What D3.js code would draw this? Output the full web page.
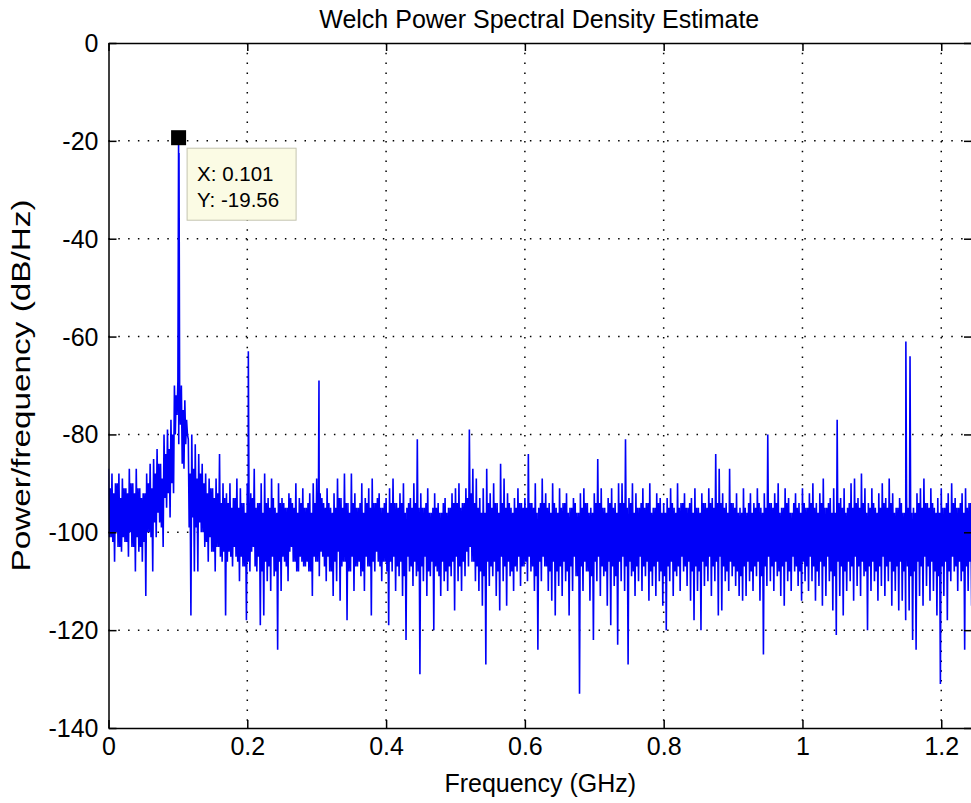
<!DOCTYPE html>
<html>
<head>
<meta charset="utf-8">
<script src="https://cdn.jsdelivr.net/npm/d3@7/dist/d3.min.js"></script>
<style>
  html, body { margin: 0; padding: 0; background: #ffffff; }
  svg { display: block; }
  text { font-family: "Liberation Sans", Arial, Helvetica, sans-serif; fill: #000; }
</style>
</head>
<body>
<svg id="chart" width="971" height="803"></svg>
<script>
// ---- spectrum data (GHz / dB/Hz) ----
// Each 0.005 GHz bin is sampled four times: upper excursion, lower core,
// upper core, lower excursion.
const binStep = 0.005;
const binHigh = [
  -87,-88,-90,-88,-89,-91,-87,-90,-87,-91, -92,-88,-86,-85,-83,-86,-80,-79,-77,-70,
  -69,-70,-73,-81,-80,-82,-84,-86,-88,-89, -91,-89,-84,-90,-92,-90,-93,-89,-91,-94,
  -90,-92,-87,-94,-90,-88,-93,-89,-95,-90, -93,-95,-92,-94,-90,-93,-91,-95,-92,-90,
  -89,-92,-94,-91,-95,-92,-89,-93,-88,-94, -88,-92,-95,-90,-93,-91,-89,-94,-92,-95,
  -93,-91,-89,-94,-92,-90,-95,-93,-90,-81, -92,-95,-91,-96,-92,-94,-96,-93,-95,-92,
  -91,-90,-94,-91,-79,-87,-89,-93,-91,-87, -92,-90,-94,-86,-89,-92,-95,-93,-91,-94,
  -93,-84,-94,-90,-95,-89,-92,-94,-90,-95, -91,-94,-92,-95,-93,-96,-92,-91,-94,-95,
  -92,-85,-91,-95,-93,-91,-94,-90,-90,-81, -93,-90,-92,-95,-91,-94,-90,-95,-92,-93,
  -94,-93,-91,-95,-90,-94,-92,-95,-93,-91, -95,-92,-94,-91,-93,-84,-87,-92,-94,-87,
  -94,-92,-95,-91,-96,-92,-94,-91,-95,-92, -80,-94,-92,-90,-95,-91,-93,-96,-92,-94,
  -91,-95,-92,-90,-94,-92,-89,-95,-93,-91, -77,-93,-91,-95,-90,-89,-93,-88,-91,-94,
  -91,-95,-92,-90,-93,-89,-92,-95,-93,-96, -93,-64,-95,-92,-91,-89,-94,-91,-95,-93,
  -91,-95,-92,-90,-93,-95,-92,-91,-94,-92
];
const coreLow = [
  -101,-102,-100,-103,-101,-102,-100,-103,-101,-103, -102,-100,-101,-98,-96,-99,-93,-92,-90,-80,
  -82,-86,-82,-99,-97,-99,-98,-100,-102,-101, -104,-103,-105,-104,-106,-105,-103,-106,-105,-107,
  -106,-104,-107,-105,-108,-106,-107,-105,-108,-106, -105,-107,-104,-106,-108,-105,-107,-106,-108,-105,
  -106,-104,-107,-105,-108,-106,-104,-107,-106,-108, -105,-107,-106,-108,-105,-107,-106,-104,-107,-106,
  -108,-106,-105,-107,-106,-109,-105,-107,-106,-108, -107,-105,-108,-106,-107,-109,-106,-108,-107,-106,
  -105,-107,-106,-104,-103,-106,-107,-108,-109,-106, -107,-106,-108,-105,-107,-106,-108,-107,-105,-107,
  -106,-105,-107,-109,-106,-105,-107,-108,-106,-108, -107,-106,-108,-107,-105,-109,-107,-106,-108,-109,
  -106,-105,-107,-108,-106,-107,-109,-106,-105,-107, -106,-108,-107,-105,-107,-106,-108,-107,-106,-108,
  -109,-107,-106,-108,-107,-105,-107,-106,-108,-107, -108,-106,-107,-105,-107,-106,-105,-107,-108,-106,
  -107,-108,-109,-107,-106,-108,-107,-106,-109,-107, -105,-107,-106,-108,-107,-106,-108,-105,-107,-108,
  -106,-107,-105,-107,-108,-106,-107,-105,-108,-109, -106,-107,-108,-106,-107,-105,-107,-106,-108,-107,
  -106,-108,-107,-105,-107,-106,-108,-107,-106,-108, -107,-109,-108,-106,-107,-105,-107,-106,-108,-109,
  -107,-106,-108,-105,-107,-106,-108,-107,-106,-108
];
const coreHigh = [
  -91,-92,-90,-93,-91,-92,-90,-92,-91,-93, -92,-90,-91,-88,-86,-89,-84,-83,-80,-72,
  -71,-75,-77,-88,-87,-89,-88,-90,-92,-91, -93,-92,-94,-93,-94,-95,-93,-95,-94,-96,
  -94,-93,-95,-94,-96,-94,-95,-93,-96,-94, -94,-95,-93,-95,-96,-94,-95,-94,-96,-94,
  -94,-93,-95,-94,-96,-95,-93,-95,-94,-96, -94,-95,-94,-96,-94,-95,-94,-93,-95,-94,
  -96,-94,-94,-95,-94,-96,-94,-95,-94,-95, -95,-94,-96,-95,-95,-96,-94,-96,-95,-94,
  -94,-95,-94,-93,-92,-94,-95,-96,-96,-94, -95,-94,-96,-94,-95,-94,-96,-95,-94,-95,
  -95,-94,-95,-96,-94,-94,-95,-96,-94,-96, -95,-94,-96,-95,-94,-96,-95,-94,-96,-96,
  -94,-94,-95,-96,-94,-95,-96,-94,-94,-95, -94,-96,-95,-94,-95,-94,-96,-95,-94,-96,
  -96,-95,-94,-96,-95,-94,-95,-94,-96,-95, -96,-94,-95,-94,-95,-94,-94,-95,-96,-94,
  -95,-96,-96,-95,-94,-96,-95,-94,-96,-95, -94,-95,-94,-96,-95,-94,-96,-94,-95,-96,
  -94,-95,-94,-95,-96,-94,-95,-94,-96,-96, -94,-95,-96,-94,-95,-94,-95,-94,-96,-95,
  -94,-96,-95,-94,-95,-94,-96,-95,-94,-96, -95,-96,-96,-94,-95,-94,-95,-94,-96,-96,
  -95,-94,-96,-94,-95,-94,-96,-95,-94,-96
];
const binLow = [
  -101,-106,-103,-104,-102,-105,-103,-108,-104,-106, -113,-100,-108,-101,-98,-103,-95,-97,-92,-76,
  -78,-87,-80,-117,-108,-108,-100,-103,-106,-104, -108,-103,-106,-117,-104,-107,-105,-110,-107,-118,
  -108,-103,-108,-119,-117,-110,-112,-109,-124,-112, -106,-110,-103,-106,-108,-106,-107,-108,-113,-106,
  -109,-105,-110,-108,-113,-110,-114,-106,-118,-108, -112,-107,-109,-112,-107,-117,-108,-106,-110,-106,
  -119,-108,-112,-109,-113,-122,-108,-111,-109,-129, -110,-113,-109,-120,-108,-113,-110,-112,-109,-116,
  -110,-112,-109,-107,-106,-110,-112,-115,-127,-111, -109,-113,-116,-110,-115,-109,-112,-108,-111,-107,
  -110,-108,-112,-124,-110,-107,-112,-114,-117,-111, -113,-110,-117,-112,-109,-133,-112,-108,-114,-122,
  -110,-113,-109,-115,-119,-111,-123,-110,-112,-127, -109,-113,-110,-112,-109,-114,-111,-113,-110,-115,
  -120,-110,-113,-109,-112,-108,-111,-114,-118,-112, -120,-111,-110,-113,-110,-117,-116,-110,-112,-109,
  -111,-113,-114,-113,-110,-112,-109,-114,-125,-111, -110,-112,-109,-113,-115,-110,-112,-108,-111,-114,
  -110,-112,-110,-114,-111,-115,-113,-110,-116,-121, -113,-117,-112,-110,-114,-111,-113,-109,-120,-112,
  -110,-114,-111,-113,-110,-115,-112,-116,-114,-118, -116,-122,-124,-113,-115,-111,-114,-112,-117,-131,
  -113,-118,-110,-108,-112,-110,-124,-112,-115,-111
];
// narrow tones that rise above the noise floor (the carrier has two samples near its top)
const toneFreq  = [0.101, 0.1016, 0.2015, 0.3033, 1.149];
const toneLevel = [-19.56, -22.5, -63, -69, -61];

// axis ticks
const xTicks = [0, 0.2, 0.4, 0.6, 0.8, 1, 1.2];
const xTickLabels = ["0", "0.2", "0.4", "0.6", "0.8", "1", "1.2"];
const yTicks = [0, -20, -40, -60, -80, -100, -120, -140];
const yTickLabels = ["0", "-20", "-40", "-60", "-80", "-100", "-120", "-140"];

// data cursor
const tipFreq = 0.101;
const tipLevel = -19.56;
const tipLines = ["X: 0.101", "Y: -19.56"];

const titleText = "Welch Power Spectral Density Estimate";
const xLabelText = "Frequency (GHz)";
const yLabelText = "Power/frequency (dB/Hz)";

// ---- layout ----
const plot = { left: 108.5, right: 972, top: 43, bottom: 728 };
const axisFont = 25;

const svg = d3.select("#chart");

const x = d3.scaleLinear().domain([0, 1.2443]).range([plot.left, plot.right]);
const y = d3.scaleLinear().domain([-140, 0]).range([plot.bottom, plot.top]);

// assemble trace points in frequency order
const trace = [];
binHigh.forEach((v, k) => {
  const f0 = k * binStep;
  trace.push({ f: f0, v: v });
  trace.push({ f: f0 + binStep * 0.25, v: coreLow[k] });
  trace.push({ f: f0 + binStep * 0.5, v: coreHigh[k] });
  trace.push({ f: f0 + binStep * 0.75, v: binLow[k] });
});
toneFreq.forEach((f, i) => trace.push({ f: f, v: toneLevel[i] }));
trace.sort((a, b) => a.f - b.f);

svg.append("defs").append("clipPath").attr("id", "plotClip")
  .append("rect")
  .attr("x", plot.left).attr("y", plot.top)
  .attr("width", plot.right - plot.left).attr("height", plot.bottom - plot.top);

// dotted grid
const grid = svg.append("g");
grid.selectAll("line.gx").data(xTicks.filter(t => t > 0)).join("line")
  .attr("x1", d => x(d)).attr("x2", d => x(d))
  .attr("y1", plot.top).attr("y2", plot.bottom)
  .attr("stroke", "#000").attr("stroke-width", 1.5)
  .attr("stroke-dasharray", "1.5,8.3");
grid.selectAll("line.gy").data(yTicks.filter(t => t < 0 && t > -140)).join("line")
  .attr("y1", d => y(d)).attr("y2", d => y(d))
  .attr("x1", plot.left).attr("x2", plot.right)
  .attr("stroke", "#000").attr("stroke-width", 1.5)
  .attr("stroke-dasharray", "1.5,8.3");

// spectrum trace
const line = d3.line().x(d => x(d.f)).y(d => y(d.v));
svg.append("path")
  .datum(trace)
  .attr("clip-path", "url(#plotClip)")
  .attr("d", line)
  .attr("fill", "none")
  .attr("stroke", "#0000f8")
  .attr("stroke-width", 1.6)
  .attr("stroke-linejoin", "miter");

// axes with inward ticks on all four sides
const tickLen = 8;
const axB = svg.append("g").attr("transform", `translate(0,${plot.bottom})`)
  .call(d3.axisBottom(x).tickValues(xTicks).tickSizeInner(-tickLen).tickSizeOuter(0)
    .tickFormat((d, i) => xTickLabels[i]).tickPadding(9));
const axT = svg.append("g").attr("transform", `translate(0,${plot.top})`)
  .call(d3.axisTop(x).tickValues(xTicks).tickSizeInner(-tickLen).tickSizeOuter(0).tickFormat(""));
const axL = svg.append("g").attr("transform", `translate(${plot.left},0)`)
  .call(d3.axisLeft(y).tickValues(yTicks).tickSizeInner(-tickLen).tickSizeOuter(0)
    .tickFormat((d, i) => yTickLabels[i]).tickPadding(10));
const axR = svg.append("g").attr("transform", `translate(${plot.right},0)`)
  .call(d3.axisRight(y).tickValues(yTicks).tickSizeInner(-tickLen).tickSizeOuter(0).tickFormat(""));

[axB, axT, axL, axR].forEach(g => {
  g.select(".domain").attr("stroke", "#000").attr("stroke-width", 1.5);
  g.selectAll(".tick line").attr("stroke", "#000").attr("stroke-width", 1.5);
  g.selectAll("text").attr("font-size", axisFont).attr("font-family", null).attr("fill", "#000");
});
axB.selectAll(".tick text").attr("dy", "0.72em");
axL.selectAll(".tick text").attr("dy", "0.34em");

// title and axis labels
svg.append("text")
  .attr("x", (plot.left + plot.right) / 2 - 1).attr("y", 28)
  .attr("text-anchor", "middle").attr("font-size", axisFont)
  .text(titleText);
svg.append("text")
  .attr("x", (plot.left + plot.right) / 2).attr("y", 792)
  .attr("text-anchor", "middle").attr("font-size", axisFont)
  .text(xLabelText);
svg.append("text")
  .attr("transform", `translate(30,${(plot.top + plot.bottom) / 2}) rotate(-90)`)
  .attr("text-anchor", "middle").attr("font-size", axisFont)
  .attr("textLength", 372).attr("lengthAdjust", "spacingAndGlyphs")
  .text(yLabelText);

// data cursor: marker and label box
const mx = x(tipFreq), my = y(tipLevel);
const tip = svg.append("g");
tip.append("rect")
  .attr("x", mx + 8.5).attr("y", my + 9.5)
  .attr("width", 109).attr("height", 72)
  .attr("fill", "#fbfbe4").attr("stroke", "#c4c4b0").attr("stroke-width", 1);
tip.selectAll("text").data(tipLines).join("text")
  .attr("x", mx + 18.5).attr("y", (d, i) => my + 42.5 + i * 26)
  .attr("font-size", 20.5)
  .text(d => d);
tip.append("rect")
  .attr("x", mx - 7.5).attr("y", my - 8.5)
  .attr("width", 15).attr("height", 15)
  .attr("fill", "#000");
</script>
</body>
</html>
